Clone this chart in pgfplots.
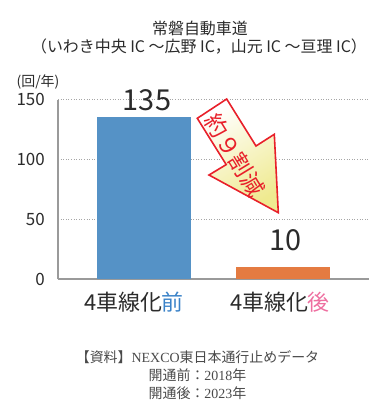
\documentclass[border=0pt]{standalone}
\usepackage{fontspec}
\usepackage{pgfplots}
\pgfplotsset{compat=1.18}
\setmainfont{Noto Sans CJK JP}
\newfontfamily\serifl{Liberation Serif}
\definecolor{barblue}{HTML}{5592C6}
\definecolor{barorange}{HTML}{E47B41}
\definecolor{txtdark}{HTML}{2B2B2B}
\definecolor{labblue}{HTML}{3A82C8}
\definecolor{labpink}{HTML}{EE6FA0}
\definecolor{axgray}{HTML}{9A9A9A}
\definecolor{arrred}{HTML}{E8202A}
\definecolor{arryel}{HTML}{EFEA90}
\definecolor{srcgray}{HTML}{4A4A4A}
\newcommand{\fs}[1]{\fontsize{#1}{#1}\selectfont}
\begin{document}
\begin{tikzpicture}[x=1bp,y=1bp]
\useasboundingbox (-58,-134) rectangle (334,279);
\begin{axis}[
  at={(0,0)}, anchor=south west,
  scale only axis, width=311bp, height=179.5bp,
  xmin=-0.6187, xmax=1.6187, ymin=0, ymax=150,
  xtick=\empty, ytick={0,50,100,150},
  axis x line*=bottom, axis y line*=left,
  x axis line style={-, draw=axgray, line width=2bp},
  y axis line style={-, draw=axgray, line width=1.5bp},
  major tick length=0pt,
  ymajorgrids,
  major grid style={draw=gray!70, line width=0.9bp, dash pattern=on 1bp off 1.6bp},
  /pgf/number format/assume math mode=true,
  yticklabel style={font=\fs{17}, text=txtdark, anchor=east, inner sep=0pt, xshift=-13bp},
  clip=false,
]
\addplot[ybar, bar width=94bp, bar shift=0pt, fill=barblue, draw=none] coordinates {(0,135)};
\addplot[ybar, bar width=94bp, bar shift=0pt, fill=barorange, draw=none] coordinates {(1,10)};
\end{axis}
% value labels
\node[anchor=base, font=\fs{29}, text=txtdark, inner sep=0pt] at (89,169) {135};
\node[anchor=base, font=\fs{29}, text=txtdark, inner sep=0pt] at (228,29) {10};
% arrow
\draw[arrred, line width=1.6bp, line join=miter, shading=axis, top color=white, bottom color=arryel, shading angle=32]
  (168.7,180) -- (139.3,160.7) -- (168.2,114.4) -- (151,104) -- (220.3,66.3) -- (216.3,144.7) -- (198,133) -- cycle;
\node[rotate=-58.5, font=\fs{23}, text=arrred, inner sep=0pt] at (177,124) {約９割減};
% titles
\node[font=\fs{16}, text=txtdark] at (142,251) {常磐自動車道};
\node[font=\fs{16}, text=txtdark] at (141,232) {（いわき中央 IC ～広野 IC，山元 IC ～亘理 IC）};
\node[font=\fs{14}, text=txtdark] at (-20,197) {(回/年)};
% category labels
\node[font=\fs{22}, text=txtdark] at (76,-23.5) {4車線化\textcolor{labblue}{前}};
\node[font=\fs{22}, text=txtdark] at (222,-23.5) {4車線化\textcolor{labpink}{後}};
% source
\node[font=\fs{14}, text=srcgray] at (139.5,-78) {【資料】{\serifl NEXCO}東日本通行止めデータ};
\node[font=\fs{14}, text=srcgray] at (139.5,-96) {開通前：{\serifl 2018}年};
\node[font=\fs{14}, text=srcgray] at (139.5,-114) {開通後：{\serifl 2023}年};
\end{tikzpicture}
\end{document}
